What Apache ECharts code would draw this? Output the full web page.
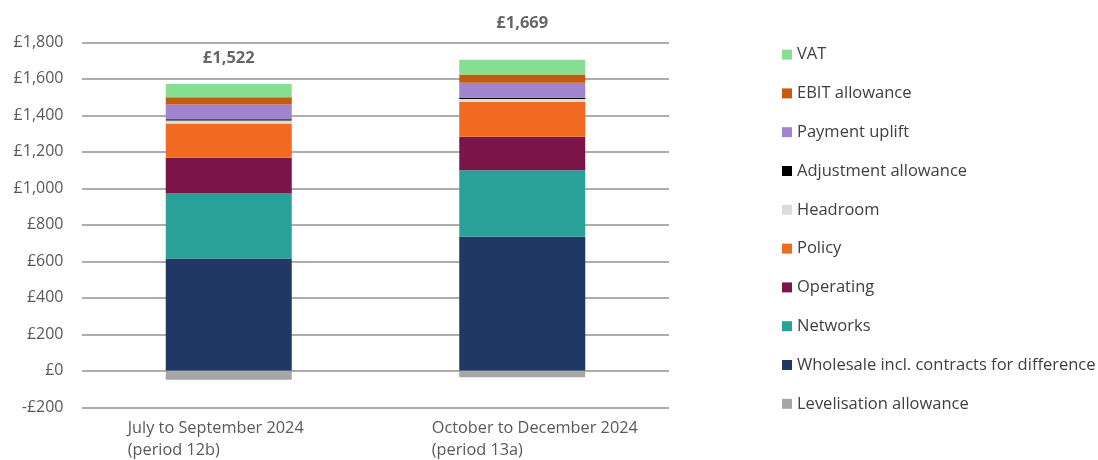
<!DOCTYPE html>
<html>
<head>
<meta charset="utf-8">
<script src="https://cdn.jsdelivr.net/npm/echarts@6/dist/echarts.min.js"></script>
<style>
html,body{margin:0;padding:0;background:#fff;}
#chart{width:1098px;height:460px;}
</style>
</head>
<body>
<div id="chart"></div>
<script>
// ---- data ----
var categories = ['July to September 2024\n(period 12b)', 'October to December 2024\n(period 13a)'];
var wholesale   = [616, 734];
var networks    = [356, 365];
var operating   = [195, 183];
var policy      = [188, 192];
var headroom    = [16, 15];
var adjustment  = [8, 7];
var paymentUplift = [80, 82];
var ebit        = [40, 46];
var vat         = [72, 80];
var levelisation = [-49, -35];
var totals      = [1522, 1669];
var yTicks = { min: -200, max: 1800, step: 200 };

var FONT = '"Open Sans", sans-serif';

var seriesDefs = [
  { name: 'Wholesale incl. contracts for difference', data: wholesale, color: '#203864' },
  { name: 'Networks', data: networks, color: '#2AA198' },
  { name: 'Operating', data: operating, color: '#7B1549' },
  { name: 'Policy', data: policy, color: '#F26A22' },
  { name: 'Headroom', data: headroom, color: '#DCDCDC' },
  { name: 'Adjustment allowance', data: adjustment, color: '#000000' },
  { name: 'Payment uplift', data: paymentUplift, color: '#A183D0' },
  { name: 'EBIT allowance', data: ebit, color: '#C55A11' },
  { name: 'VAT', data: vat, color: '#85DF8E' },
  { name: 'Levelisation allowance', data: levelisation, color: '#A6A6A6' }
];

var legendOrder = ['VAT', 'EBIT allowance', 'Payment uplift', 'Adjustment allowance', 'Headroom',
  'Policy', 'Operating', 'Networks', 'Wholesale incl. contracts for difference', 'Levelisation allowance'];

var series = seriesDefs.map(function (s) {
  return {
    name: s.name,
    type: 'bar',
    stack: 'total',
    barWidth: 126,
    data: s.data,
    itemStyle: { color: s.color },
    emphasis: { disabled: true },
    animation: false
  };
});

var labelOffsets = [[0, -35], [0, -43]];
series.push({
  name: 'Total',
  type: 'scatter',
  symbolSize: 1,
  itemStyle: { color: 'rgba(0,0,0,0)' },
  clip: false,
  data: totals.map(function (v, i) {
    return {
      value: v,
      label: { offset: labelOffsets[i] }
    };
  }),
  label: {
    show: true,
    position: 'inside',
    fontFamily: FONT,
    fontWeight: 'bold',
    fontSize: 16.5,
    color: '#404040',
    formatter: function (p) { return '£' + p.value.toLocaleString('en-GB'); }
  },
  animation: false,
  silent: true
});

var labelWidths = [202, 181];

var chart = echarts.init(document.getElementById('chart'));
chart.setOption({
  backgroundColor: '#ffffff',
  animation: false,
  grid: { left: 82, right: 429, top: 42.3, bottom: 52.7, containLabel: false },
  legend: {
    orient: 'vertical',
    left: 782,
    top: 45.6,
    padding: 0,
    data: legendOrder,
    icon: 'rect',
    itemWidth: 10,
    itemHeight: 10,
    itemGap: 20.8,
    selectedMode: false,
    textStyle: { fontFamily: FONT, fontSize: 16.5, color: '#404040', lineHeight: 18 }
  },
  xAxis: {
    type: 'category',
    data: categories,
    axisLine: { show: false },
    axisTick: { show: false },
    axisLabel: {
      interval: 0,
      hideOverlap: false,
      margin: 10,
      fontFamily: FONT,
      fontSize: 16,
      color: '#595959',
      formatter: function (v, i) {
        var parts = v.split('\n');
        var k = 'c' + i;
        return parts.map(function (p) { return '{' + k + '|' + p + '}'; }).join('\n');
      },
      rich: {
        c0: { width: labelWidths[0], align: 'left', fontFamily: FONT, fontSize: 16.3, color: '#595959', lineHeight: 22 },
        c1: { width: labelWidths[1], align: 'left', fontFamily: FONT, fontSize: 16.3, color: '#595959', lineHeight: 22 }
      }
    }
  },
  yAxis: {
    type: 'value',
    min: yTicks.min,
    max: yTicks.max,
    interval: yTicks.step,
    axisLine: { show: false },
    axisTick: { show: false },
    splitLine: { lineStyle: { color: '#ADADAD', width: 2 } },
    axisLabel: {
      margin: 18.5,
      fontFamily: FONT,
      fontSize: 16,
      color: '#595959',
      formatter: function (v) {
        var s = Math.abs(v).toLocaleString('en-GB');
        return (v < 0 ? '-£' : '£') + s;
      }
    }
  },
  tooltip: { show: false },
  series: series
});
</script>
</body>
</html>
